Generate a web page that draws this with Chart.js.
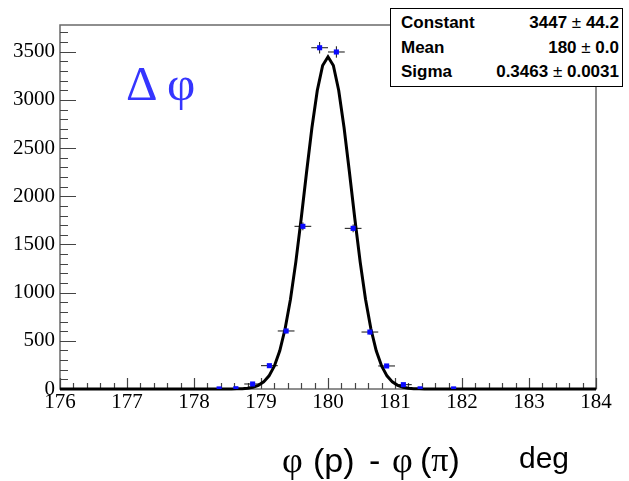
<!DOCTYPE html>
<html>
<head>
<meta charset="utf-8">
<script src="https://cdn.jsdelivr.net/npm/chart.js@4.4.0/dist/chart.umd.min.js"></script>
<style>
html, body { margin: 0; padding: 0; background: #fff; }
#wrap { position: relative; width: 629px; height: 481px; overflow: hidden; }
#plot { position: absolute; left: 0; top: 0; }
#stats { position: absolute; left: 390px; top: 8px; width: 231px; height: 77px; border: 1px solid #000; background: #fff;
         font: bold 17px 'Liberation Sans', Arial, sans-serif; color: #000; }
#stats .row { position: absolute; left: 10px; right: 3px; height: 24px; line-height: 24px; }
#stats .v { position: absolute; right: 0; top: 0; }
#stats .pm { font-weight: normal; }
#dphi { position: absolute; left: 126px; top: 59px; font: 49px/49px 'Liberation Serif', serif; color: #3535ff; white-space: pre; }
.xt { position: absolute; bottom: 4px; font: 34px/34px 'Liberation Sans', Arial, sans-serif; color: #000; white-space: pre; }
.xt.g { font-family: 'Liberation Serif', serif; font-size: 36px; }
</style>
</head>
<body>
<div id="wrap">
  <canvas id="plot" width="629" height="481"></canvas>
  <div id="dphi">Δ φ</div>
  <div id="stats">
    <div class="row" style="top:2px">Constant<span class="v">3447 <span class="pm">±</span> 44.2</span></div>
    <div class="row" style="top:27px">Mean<span class="v">180 <span class="pm">±</span> 0.0</span></div>
    <div class="row" style="top:51px">Sigma<span class="v">0.3463 <span class="pm">±</span> 0.0031</span></div>
  </div>
  <!-- x axis title, pieces laid out like the TLatex string -->
  <span class="xt g" style="left:282px">φ</span>
  <span class="xt" style="left:313px">(p)</span>
  <span class="xt" style="left:369px">-</span>
  <span class="xt g" style="left:392px">φ</span>
  <span class="xt" style="left:420px">(<span style="font-family:'Liberation Serif',serif">π</span>)</span>
  <span class="xt" style="left:519px;font-size:30px;bottom:6px">deg</span>
</div>
<script>
// Axis ranges and tick labels
const xMin = 176, xMax = 184;
const yMin = 0, yMax = 3777;
const xTickValues = [176, 177, 178, 179, 180, 181, 182, 183, 184];
const yTickValues = [0, 500, 1000, 1500, 2000, 2500, 3000, 3500];

// Histogram bins (0.25 deg wide), contents and errors
const binHalfWidth = 0.125;
const binCenters = [178.375, 178.625, 178.875, 179.125, 179.375, 179.625, 179.875, 180.125, 180.375, 180.625, 180.875, 181.125, 181.375, 181.875];
const binCounts  = [1, 3, 52, 242, 602, 1688, 3541, 3497, 1667, 591, 239, 45, 2, 1];
const binErrors  = [1, 1.7, 7.2, 15.6, 24.5, 41.1, 59.5, 59.1, 40.8, 24.3, 15.5, 6.7, 1.4, 1];

// Gaussian fit parameters (from the stats box)
const fitConstant = 3447;
const fitMean = 180;
const fitSigma = 0.3463;
const fitNpx = 100;

const histPoints = binCenters.map((x, i) => ({ x: x, y: binCounts[i] }));

const fitPoints = [];
for (let i = 0; i <= fitNpx; i++) {
    const x = xMin + (xMax - xMin) * i / fitNpx;
    const t = (x - fitMean) / fitSigma;
    fitPoints.push({ x: x, y: fitConstant * Math.exp(-0.5 * t * t) });
}

// frame, inward ticks and error bars, ROOT style
const rootStyle = {
    id: 'rootStyle',
    beforeDatasetsDraw(chart) {
        const ctx = chart.ctx;
        const a = chart.chartArea;
        const xs = chart.scales.x, ys = chart.scales.y;
        ctx.save();

        // frame
        ctx.strokeStyle = '#6a6a6a';
        ctx.lineWidth = 1.5;
        ctx.strokeRect(a.left, a.top, a.right - a.left, a.bottom - a.top);

        // x ticks, every 0.2, long on integers
        ctx.strokeStyle = '#444';
        ctx.lineWidth = 1.2;
        ctx.beginPath();
        for (let i = 0; i <= 40; i++) {
            const v = xMin + i * 0.2;
            const px = Math.round(xs.getPixelForValue(v)) + 0.5;
            const len = (i % 5 === 0) ? 11 : 6;
            ctx.moveTo(px, a.bottom);
            ctx.lineTo(px, a.bottom - len);
        }
        // y ticks, every 100, long on 500s
        for (let v = 0; v <= yMax; v += 100) {
            const py = Math.round(ys.getPixelForValue(v)) + 0.5;
            const len = (v % 500 === 0) ? 16 : 8;
            ctx.moveTo(a.left, py);
            ctx.lineTo(a.left + len, py);
        }
        ctx.stroke();

        // error bars
        ctx.strokeStyle = '#111';
        ctx.lineWidth = 1;
        ctx.beginPath();
        binCenters.forEach((x, i) => {
            const px = xs.getPixelForValue(x);
            const py = ys.getPixelForValue(binCounts[i]);
            const x0 = xs.getPixelForValue(x - binHalfWidth);
            const x1 = xs.getPixelForValue(x + binHalfWidth);
            const y0 = ys.getPixelForValue(binCounts[i] - binErrors[i]);
            const y1 = ys.getPixelForValue(binCounts[i] + binErrors[i]);
            ctx.moveTo(x0, py); ctx.lineTo(x1, py);
            ctx.moveTo(px, y0); ctx.lineTo(px, y1);
        });
        ctx.stroke();
        ctx.restore();
    }
};

const tickFont = { family: "'Liberation Serif', 'Times New Roman', serif", size: 21 };

new Chart(document.getElementById('plot'), {
    type: 'scatter',
    data: {
        datasets: [
            {
                label: 'hist',
                data: histPoints,
                pointStyle: 'rect',
                pointRadius: 3.6,
                pointBackgroundColor: '#0a0aff',
                pointBorderWidth: 0,
                showLine: false
            },
            {
                label: 'gaus',
                type: 'line',
                data: fitPoints,
                borderColor: '#000',
                borderWidth: 3,
                pointRadius: 0,
                tension: 0,
                fill: false,
                clip: false
            }
        ]
    },
    options: {
        responsive: false,
        animation: false,
        devicePixelRatio: 1,
        layout: { padding: { left: 0, top: 25, right: 33, bottom: 0 } },
        plugins: { legend: { display: false }, tooltip: { enabled: false } },
        scales: {
            x: {
                type: 'linear',
                min: xMin,
                max: xMax,
                afterBuildTicks: s => { s.ticks = xTickValues.map(v => ({ value: v })); },
                afterFit: s => { s.height = 92; },
                grid: { display: false, drawTicks: false },
                border: { display: false },
                ticks: { font: tickFont, color: '#000', padding: 1, maxRotation: 0, autoSkip: false, callback: v => String(v) }
            },
            y: {
                type: 'linear',
                min: yMin,
                max: yMax,
                afterBuildTicks: s => { s.ticks = yTickValues.map(v => ({ value: v })); },
                afterFit: s => { s.width = 60; },
                grid: { display: false, drawTicks: false },
                border: { display: false },
                ticks: { font: tickFont, color: '#000', padding: 5, autoSkip: false, callback: v => String(v) }
            }
        }
    },
    plugins: [rootStyle]
});
</script>
</body>
</html>
